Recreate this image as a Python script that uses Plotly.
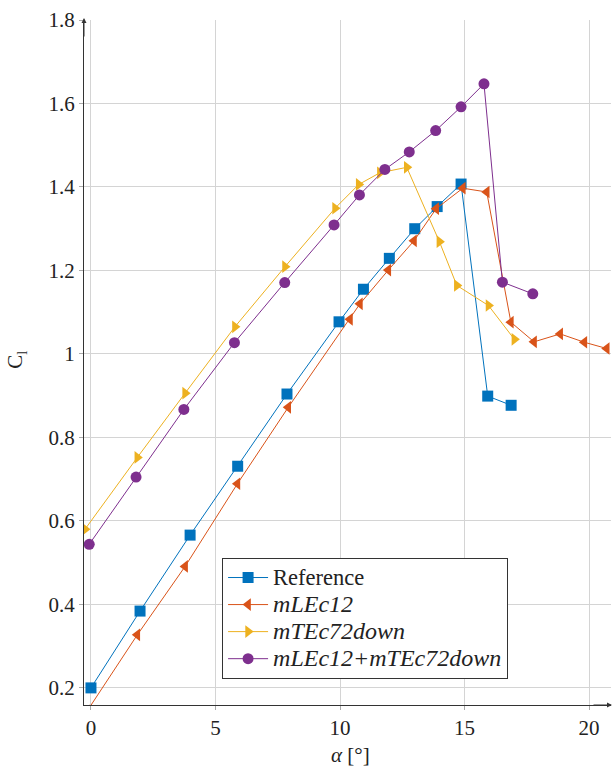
import plotly.graph_objects as go

# Data
ref_alpha = [0, 1.97, 3.98, 5.89, 7.87, 9.96, 10.94, 11.98, 13.0, 13.9, 14.86, 15.93, 16.87]
ref_cl = [0.200, 0.384, 0.566, 0.731, 0.904, 1.077, 1.155, 1.229, 1.300, 1.353, 1.407, 0.899, 0.877]

mle_alpha = [-0.15, 1.86, 3.78, 5.88, 7.92, 10.4, 10.8, 11.94, 12.97, 13.86, 14.93, 15.89, 16.86, 17.79, 18.84, 19.81, 20.71]
mle_cl = [0.145, 0.327, 0.491, 0.689, 0.872, 1.083, 1.120, 1.201, 1.271, 1.348, 1.397, 1.388, 1.076, 1.029, 1.048, 1.028, 1.013]

mte_alpha = [-0.24, 1.86, 3.78, 5.78, 7.79, 9.8, 10.75, 11.6, 12.68, 13.99, 14.69, 15.96, 17.0]
mte_cl = [0.580, 0.752, 0.906, 1.065, 1.209, 1.349, 1.406, 1.434, 1.447, 1.269, 1.164, 1.116, 1.035]

comb_alpha = [-0.07, 1.81, 3.73, 5.76, 7.78, 9.76, 10.78, 11.8, 12.78, 13.84, 14.86, 15.78, 16.52, 17.74]
comb_cl = [0.544, 0.705, 0.867, 1.027, 1.171, 1.309, 1.381, 1.442, 1.484, 1.535, 1.592, 1.647, 1.172, 1.144]

y_ticks = [0.2, 0.4, 0.6, 0.8, 1.0, 1.2, 1.4, 1.6, 1.8]
y_ticktext = ["0.2", "0.4", "0.6", "0.8", "1", "1.2", "1.4", "1.6", "1.8"]
x_ticks = [0, 5, 10, 15, 20]

FONT = "Liberation Serif, Times New Roman, serif"
TXT = "#222222"

fig = go.Figure()
series = [
    ('<span style="font-size:22.5px">Reference</span>', ref_alpha, ref_cl, "#0072BD", "square", 11),
    ('<span style="font-size:24px"><i>mLEc12</i></span>', mle_alpha, mle_cl, "#D95319", "triangle-left", 11),
    ('<span style="font-size:24px"><i>mTEc72down</i></span>', mte_alpha, mte_cl, "#EDB120", "triangle-right", 11),
    ('<span style="font-size:24px"><i>mLEc12+mTEc72down</i></span>', comb_alpha, comb_cl, "#7E2F8E", "circle", 11),
]
for name, xs, ys, col, sym, sz in series:
    fig.add_trace(go.Scatter(
        x=xs, y=ys, name=name, mode="lines+markers",
        line=dict(color=col, width=1),
        marker=dict(symbol=sym, size=sz, color=col, line=dict(width=0)),
    ))

fig.update_layout(
    width=614, height=770,
    margin=dict(l=84, r=3, t=20, b=65, autoexpand=False),
    plot_bgcolor="white", paper_bgcolor="white",
    font=dict(family=FONT, size=21, color=TXT),
    showlegend=True,
    legend=dict(
        x=0.262, y=0.2146, xanchor="left", yanchor="top",
        bordercolor="#333333", borderwidth=1, bgcolor="white",
        font=dict(family=FONT, size=18.5, color=TXT),
        tracegroupgap=0, itemwidth=40,
    ),
    xaxis=dict(
        range=[-0.28, 20.88], tickvals=x_ticks, automargin=False,
        showgrid=True, gridcolor="#d4d4d4", gridwidth=1,
        zeroline=False, showline=True, linecolor="#333333", linewidth=1,
        ticks="outside", ticklen=4, tickcolor="#aaaaaa",
        tickfont=dict(family=FONT, size=21, color=TXT),
    ),
    yaxis=dict(
        range=[0.159, 1.8], tickvals=y_ticks, ticktext=y_ticktext, automargin=False,
        showgrid=True, gridcolor="#d4d4d4", gridwidth=1,
        zeroline=False, showline=True, linecolor="#333333", linewidth=1,
        ticks="outside", ticklen=4, tickcolor="#aaaaaa",
        tickfont=dict(family=FONT, size=21, color=TXT),
    ),
)

# axis titles
fig.add_annotation(x=0.505, y=0, xref="paper", yref="paper", text="<i>α</i> [°]",
                   showarrow=False, yanchor="middle", xanchor="center", yshift=-50,
                   font=dict(family=FONT, size=21, color=TXT))
fig.add_annotation(x=0, y=0.504, xref="paper", yref="paper", text="C<sub>l</sub>",
                   showarrow=False, yanchor="middle", xanchor="center", xshift=-68,
                   textangle=-90, font=dict(family=FONT, size=21, color=TXT))

# axis arrowheads
fig.add_annotation(x=0, y=1, xref="paper", yref="paper", text="", showarrow=True,
                   ax=0, ay=20, arrowhead=2, arrowsize=1, arrowwidth=1, arrowcolor="#333333",
                   yshift=2)
fig.add_annotation(x=1, y=0, xref="paper", yref="paper", text="", showarrow=True,
                   ax=-20, ay=0, arrowhead=2, arrowsize=1, arrowwidth=1, arrowcolor="#333333",
                   xshift=1)

fig.write_html("out.html", config={"displayModeBar": False},
               post_script="document.body.style.margin='0px';")
